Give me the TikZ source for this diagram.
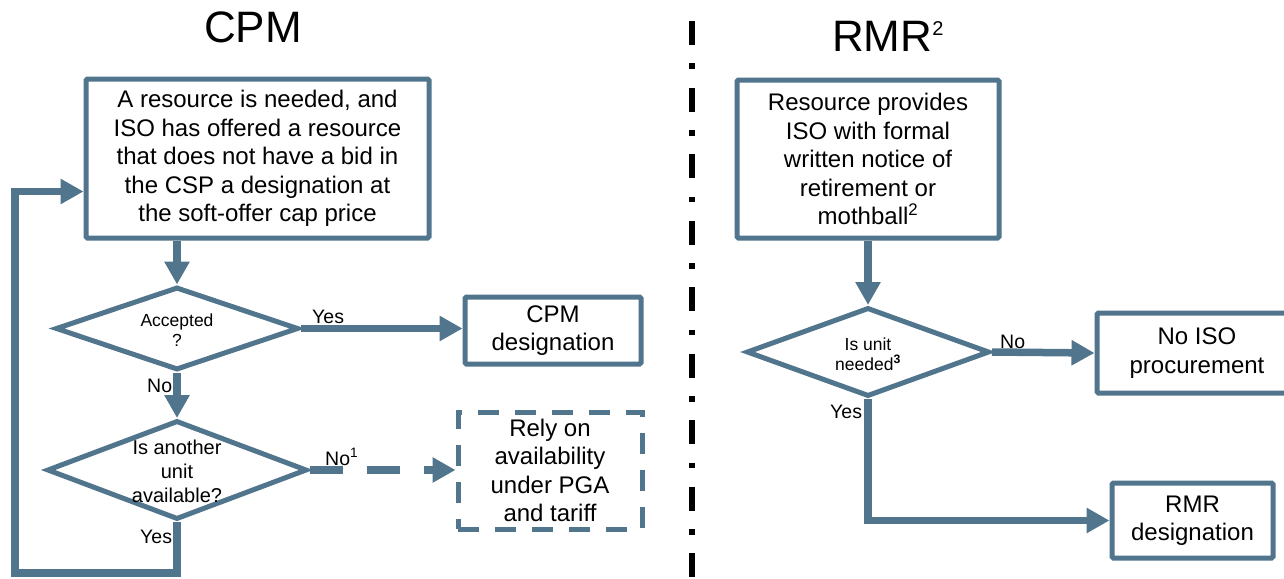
\documentclass[tikz,border=0pt]{standalone}
\usepackage{fontspec}
\setmainfont{Liberation Sans}
\usetikzlibrary{shapes.geometric,arrows.meta}

\definecolor{flowblue}{RGB}{80,117,140}

\tikzset{
    box/.style={draw=flowblue, line width=5pt, rounded corners=1.5pt, fill=white, align=center, inner sep=0pt, font=\fontsize{24}{28.5}\selectfont},
    decision/.style={diamond, draw=flowblue, line width=5pt, fill=white, inner sep=0pt},
    dectext/.style={align=center, inner sep=0pt},
    flow/.style={draw=flowblue, line width=7.5pt, -{Triangle[length=23pt,width=24pt]}},
    branch/.style={anchor=base west, inner sep=0pt, font=\fontsize{19.5}{19.5}\selectfont},
    heading/.style={anchor=base west, inner sep=0pt, font=\fontsize{44}{44}\selectfont},
    separator/.style={line width=5.5pt, dash pattern=on 24pt off 18.5pt on 5.5pt off 18.5pt}
}

\begin{document}
\begin{tikzpicture}[x=1pt, y=-1pt]

    \useasboundingbox (0,0) rectangle (1284,578);
    \clip (0,0) rectangle (1284,578);

    % headings and the divider
    \node [heading] (cpmtitle) at (204,42) {CPM};
    \node [heading] (rmrtitle) at (832,52) {RMR\raisebox{16pt}{\fontsize{20}{20}\selectfont 2}};
    \draw [separator] (692,21) -- (692,578);

    % CPM side
    \node [box, minimum width=343pt, minimum height=159pt] (need) at (257.5,158.5)
        {A resource is needed, and\\ISO has offered a resource\\that does not have a bid in\\the CSP a designation at\\the soft-offer cap price};
    \node [decision, minimum width=243pt, minimum height=83pt] (accepted) at (177,328.5) {};
    \node [dectext, font=\fontsize{17.5}{20}\selectfont] (acctext) at (177,330) {Accepted\\?};
    \node [box, minimum width=176pt, minimum height=67pt] (cpmdes) at (553,330.5) {CPM\\designation};
    \node [decision, minimum width=260pt, minimum height=99pt] (another) at (177,470) {};
    \node [dectext, font=\fontsize{20}{24}\selectfont] (anothertext) at (177,471) {Is another\\unit\\available?};
    \node [box, dashed, dash pattern=on 21pt off 16pt, rounded corners=0pt, minimum width=184pt, minimum height=117pt] (rely) at (550,470.5)
        {Rely on\\availability\\under PGA\\and tariff};
    \coordinate (loop) at (15,573);

    \draw [flow] (accepted.north |- need.south) -- (accepted.north);
    \draw [flow] (accepted.east) -- (accepted.east -| cpmdes.west);
    \draw [flow] (accepted.south) -- (another.north);
    \draw [flow, dash pattern=on 33pt off 24pt] (another.east) -- (another.east -| rely.west);
    \draw [flow] (another.south) |- (loop) |- ([yshift=-33pt]need.west);

    \node [branch] (accyes) at (312,323) {Yes};
    \node [branch] (accno) at (147,392) {No};
    \node [branch] (anotherno) at (325,465) {No\textsuperscript{1}};
    \node [branch] (anotheryes) at (140,543) {Yes};

    % RMR side
    \node [box, minimum width=262pt, minimum height=158pt] (notice) at (868,159)
        {Resource provides\\ISO with formal\\written notice of\\retirement or\\mothball\textsuperscript{2}};
    \node [decision, minimum width=243pt, minimum height=89pt] (unit) at (868,352) {};
    \node [dectext, font=\fontsize{17.5}{20}\selectfont] (unittext) at (868,354) {Is unit\\needed\textsuperscript{\textbf{3}}};
    \node [box, minimum width=200pt, minimum height=80pt] (noiso) at (1197,353) {No ISO\\procurement};
    \node [box, minimum width=161pt, minimum height=75pt] (rmrdes) at (1192.5,520.5) {RMR\\designation};

    \draw [flow] (notice.south) -- (unit.north);
    \draw [flow] (unit.east) -- (noiso.west);
    \draw [flow] (unit.south) |- (rmrdes.west);

    \node [branch] (unitno) at (1000,348) {No};
    \node [branch] (unityes) at (830,418) {Yes};

\end{tikzpicture}
\end{document}
